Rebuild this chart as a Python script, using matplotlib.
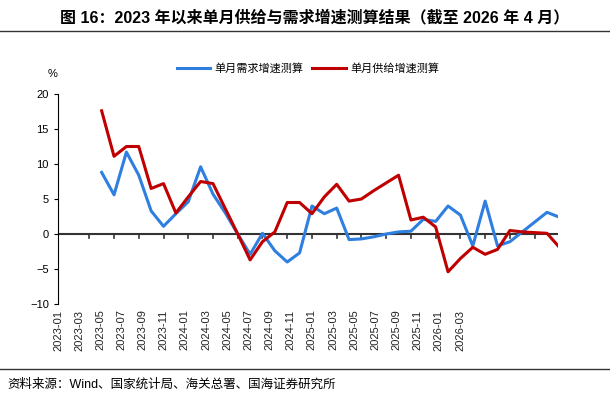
import matplotlib
matplotlib.use("Agg")
import matplotlib.pyplot as plt

plt.rcParams['font.family'] = ['Liberation Sans', 'Noto Sans CJK SC', 'DejaVu Sans']

months = [f"{2023 + (i // 12)}-{i % 12 + 1:02d}" for i in range(40)]
demand = [8.8, 5.6, 11.7, 8.4, 3.3, 1.1, 2.9, 4.6, 9.6, 5.7,
          3.0, 0.0, -2.9, 0.1, -2.4, -4.0, -2.7, 4.0, 2.9, 3.7, -0.8, -0.7,
          -0.4, 0.0, 0.3, 0.4, 2.1, 1.8, 4.0, 2.7, -1.7, 4.7, -1.7, -1.1,
          0.3, 1.7, 3.1, 2.4]
supply = [17.6, 11.1, 12.5, 12.5, 6.5, 7.2, 3.0, 5.3, 7.5, 7.2,
          3.6, 0.0, -3.7, -1.1, 0.3, 4.5, 4.5, 2.9, 5.3, 7.1, 4.7, 5.0,
          6.2, 7.3, 8.4, 2.0, 2.4, 1.0, -5.4, -3.5, -1.9, -2.9, -2.2, 0.5,
          0.3, 0.2, 0.1, -1.9]
xs = list(range(2, 2 + len(demand)))

fig = plt.figure(figsize=(6.1, 4.0), dpi=100)
ax = fig.add_axes([0.095, 0.24, 0.82, 0.525])
ax.plot(xs, demand, color='#2E7FE0', lw=2.2, label='单月需求增速测算')
ax.plot(xs, supply, color='#C00000', lw=2.2, label='单月供给增速测算')
ax.set_ylim(-10, 20)
x0, x1 = -0.9, 38.9
ax.set_xlim(x0, x1)
ax.set_yticks(range(-10, 21, 5))
ax.tick_params(axis='y', labelsize=8, length=3, direction='out')
for s in ['top', 'right', 'bottom']:
    ax.spines[s].set_visible(False)
ax.axhline(0, color='#333333', lw=1.5, zorder=1)
for t in range(1, 40, 2):
    ax.plot([t, t], [0, -0.6], color='#333333', lw=1.2, zorder=1)
# category labels in the reference are laid out on a compressed band
labels = months[::2]
axw_px = 0.82 * 610
lab_pos = [x0 + ((50 + 21.5 * k) - 0.095 * 610) / axw_px * (x1 - x0) for k in range(len(labels))]
ax.set_xticks(lab_pos)
ax.set_xticklabels(labels, rotation=90, fontsize=8, color='#222222')
ax.tick_params(axis='x', length=0, pad=4)
ax.text(-0.02, 1.08, '%', transform=ax.transAxes, fontsize=8, ha='left')
ax.legend(loc='lower center', bbox_to_anchor=(0.5, 1.05), ncol=2, frameon=False,
          fontsize=8, handlelength=3, columnspacing=0.8, handletextpad=0.4)
fig.text(0.515, 0.945, '图 16：2023 年以来单月供给与需求增速测算结果（截至 2026 年 4 月）',
         ha='center', fontsize=11.5, fontweight='bold')
fig.lines.append(plt.Line2D([0.0, 1.0], [0.922, 0.922], color='#333333', lw=1, transform=fig.transFigure))
fig.lines.append(plt.Line2D([0.0, 1.0], [0.077, 0.077], color='#333333', lw=1, transform=fig.transFigure))
fig.text(0.012, 0.03, '资料来源：Wind、国家统计局、海关总署、国海证券研究所', fontsize=9)
fig.savefig('out.png', dpi=100)
